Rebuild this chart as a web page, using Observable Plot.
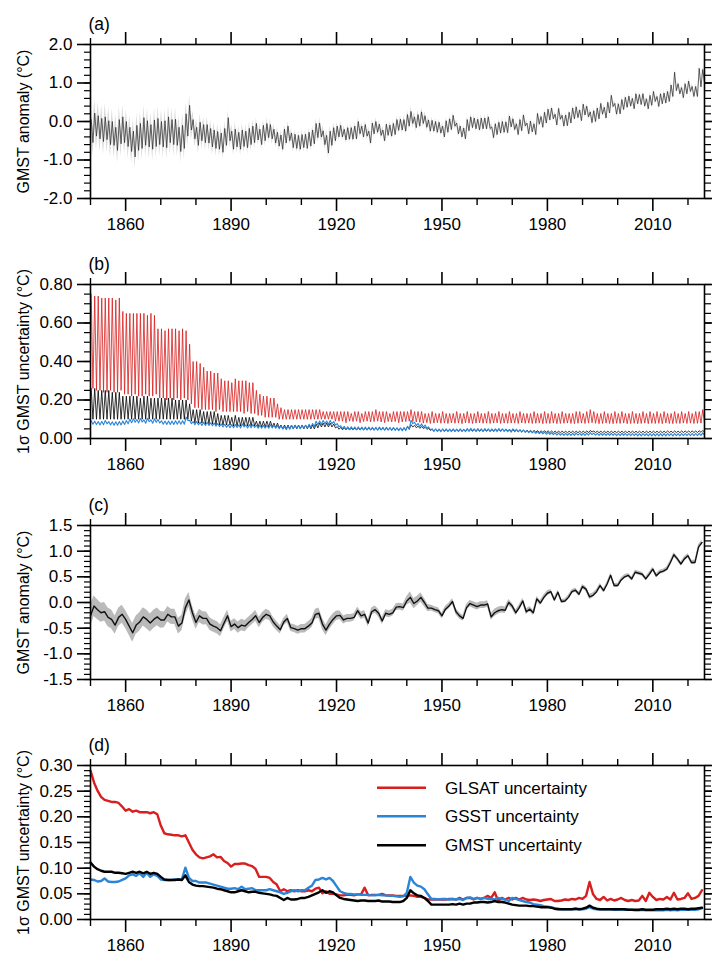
<!DOCTYPE html>
<html><head><meta charset="utf-8">
<script src="https://cdn.jsdelivr.net/npm/d3@7"></script>
<script src="https://cdn.jsdelivr.net/npm/@observablehq/plot@0.6"></script>
<style>
body{margin:0;background:#fff;}
#wrap{position:relative;width:712px;height:956px;overflow:hidden;background:#fff;}
#wrap svg{position:absolute;left:0;}
</style></head><body><div id="wrap"></div>
<script>
// ---------- data (years 1850..2024) ----------
const years = d3.range(1850, 2025);

// (c) annual GMST anomaly (°C)
const gmstAnn = [
-0.26,-0.07,-0.14,-0.20,-0.18,-0.29,-0.33,-0.44,-0.29,-0.23,
-0.33,-0.46,-0.59,-0.44,-0.38,-0.28,-0.33,-0.40,-0.33,-0.28,
-0.34,-0.34,-0.23,-0.28,-0.28,-0.46,-0.40,-0.10,0.05,-0.20,
-0.39,-0.26,-0.31,-0.31,-0.42,-0.46,-0.49,-0.55,-0.40,-0.26,
-0.47,-0.42,-0.49,-0.44,-0.46,-0.39,-0.33,-0.26,-0.39,-0.29,
-0.23,-0.26,-0.38,-0.46,-0.53,-0.38,-0.31,-0.49,-0.51,-0.54,
-0.51,-0.51,-0.46,-0.40,-0.23,-0.21,-0.42,-0.54,-0.42,-0.33,
-0.26,-0.25,-0.34,-0.31,-0.31,-0.29,-0.16,-0.26,-0.23,-0.40,
-0.18,-0.14,-0.21,-0.36,-0.21,-0.23,-0.20,-0.09,-0.08,-0.10,
0.03,0.10,-0.02,0.03,0.10,0.00,-0.11,-0.11,-0.14,-0.16,
-0.26,-0.13,-0.07,0.02,-0.18,-0.26,-0.31,-0.10,-0.02,-0.05,
-0.08,-0.05,-0.05,-0.03,-0.28,-0.20,-0.16,-0.14,-0.15,0.00,
-0.07,-0.20,-0.10,0.03,-0.18,-0.13,-0.20,0.07,-0.01,0.10,
0.18,0.21,0.05,0.20,0.02,0.03,0.10,0.21,0.24,0.16,
0.31,0.26,0.11,0.14,0.21,0.33,0.23,0.36,0.53,0.33,
0.33,0.44,0.50,0.53,0.46,0.59,0.57,0.55,0.46,0.55,
0.65,0.52,0.59,0.61,0.65,0.78,0.93,0.85,0.75,0.85,
0.91,0.78,0.78,1.08,1.17];

// (a) monthly GMST anomaly: yearly high and low excursions (°C)
const monthHi = [
0.05,0.22,0.15,0.08,0.12,0.02,0.00,-0.15,0.05,0.12,
0.00,-0.15,-0.25,-0.10,-0.05,0.10,0.02,-0.08,0.04,0.08,
0.00,0.02,0.12,0.05,0.06,-0.15,-0.10,0.20,0.42,0.05,
-0.15,-0.02,-0.08,-0.08,-0.18,-0.22,-0.26,-0.30,-0.18,0.10,
-0.25,-0.20,-0.28,-0.22,-0.25,-0.18,-0.12,-0.05,-0.20,-0.10,
-0.05,-0.08,-0.20,-0.28,-0.35,-0.20,-0.12,-0.30,-0.33,-0.36,
-0.34,-0.33,-0.28,-0.22,-0.05,-0.04,-0.24,-0.36,-0.25,-0.16,
-0.12,-0.10,-0.20,-0.16,-0.16,-0.12,0.00,-0.12,-0.08,-0.25,
-0.04,0.00,-0.07,-0.22,-0.07,-0.09,-0.05,0.05,0.06,0.05,
0.18,0.26,0.12,0.18,0.25,0.15,0.04,0.03,0.00,-0.02,
-0.12,0.02,0.07,0.16,-0.04,-0.12,-0.17,0.05,0.12,0.09,
0.06,0.09,0.09,0.12,-0.14,-0.06,-0.02,0.00,-0.01,0.14,
0.07,-0.06,0.05,0.17,-0.04,0.01,-0.06,0.21,0.13,0.24,
0.32,0.35,0.19,0.34,0.16,0.17,0.24,0.35,0.38,0.30,
0.45,0.40,0.25,0.28,0.35,0.47,0.37,0.50,0.68,0.47,
0.46,0.57,0.63,0.66,0.60,0.72,0.70,0.72,0.59,0.68,
0.78,0.65,0.72,0.74,0.78,0.95,1.28,0.98,0.88,0.98,
1.05,0.91,0.91,1.38,1.35];
const monthLo = [
-0.55,-0.38,-0.45,-0.52,-0.47,-0.60,-0.62,-0.75,-0.58,-0.55,
-0.65,-0.78,-0.92,-0.75,-0.70,-0.62,-0.66,-0.72,-0.65,-0.60,
-0.66,-0.68,-0.55,-0.60,-0.62,-0.78,-0.70,-0.38,-0.22,-0.45,
-0.62,-0.50,-0.55,-0.56,-0.66,-0.70,-0.72,-0.80,-0.62,-0.50,
-0.72,-0.66,-0.72,-0.65,-0.68,-0.60,-0.55,-0.48,-0.60,-0.50,
-0.42,-0.45,-0.56,-0.64,-0.72,-0.56,-0.50,-0.68,-0.70,-0.72,
-0.68,-0.70,-0.64,-0.58,-0.42,-0.40,-0.60,-0.82,-0.62,-0.50,
-0.40,-0.40,-0.48,-0.46,-0.46,-0.45,-0.32,-0.40,-0.38,-0.56,
-0.32,-0.28,-0.36,-0.50,-0.36,-0.38,-0.34,-0.23,-0.22,-0.25,
-0.12,-0.05,-0.16,-0.12,-0.05,-0.15,-0.25,-0.25,-0.28,-0.30,
-0.40,-0.28,-0.21,-0.12,-0.32,-0.40,-0.45,-0.24,-0.16,-0.19,
-0.22,-0.19,-0.19,-0.18,-0.42,-0.34,-0.30,-0.28,-0.29,-0.14,
-0.21,-0.34,-0.24,-0.11,-0.32,-0.27,-0.34,-0.07,-0.15,-0.04,
0.04,0.07,-0.09,0.06,-0.12,-0.11,-0.04,0.07,0.10,0.02,
0.17,0.12,-0.03,0.00,0.07,0.19,0.09,0.22,0.39,0.19,
0.20,0.31,0.37,0.40,0.33,0.46,0.44,0.40,0.33,0.42,
0.52,0.39,0.46,0.48,0.52,0.65,0.80,0.72,0.62,0.72,
0.78,0.65,0.65,0.90,1.02];

// (b) monthly 1σ uncertainty: yearly peak / trough (°C)
const glsatMonHi = [
.75,.74,.74,.73,.73,.73,.73,.72,.73,.66,
.65,.65,.65,.65,.65,.65,.64,.65,.64,.57,
.57,.56,.57,.57,.57,.56,.57,.56,.49,.40,
.40,.39,.37,.35,.35,.34,.34,.31,.30,.30,
.29,.31,.30,.30,.30,.29,.29,.25,.23,.22,
.22,.21,.21,.18,.16,.15,.15,.15,.15,.15,
.15,.15,.15,.15,.15,.15,.14,.14,.14,.14,
.14,.14,.14,.14,.13,.14,.14,.13,.14,.14,
.14,.15,.14,.14,.14,.13,.14,.14,.14,.14,
.14,.15,.14,.14,.14,.13,.13,.14,.13,.13,
.14,.13,.13,.13,.14,.13,.13,.14,.13,.13,
.14,.13,.13,.14,.13,.13,.14,.13,.13,.14,
.13,.13,.14,.13,.13,.13,.14,.13,.13,.14,
.13,.14,.13,.13,.14,.13,.13,.13,.14,.14,
.13,.14,.15,.14,.13,.13,.14,.13,.13,.14,
.13,.14,.13,.13,.14,.13,.13,.14,.13,.14,
.13,.14,.13,.14,.13,.13,.14,.13,.14,.13,
.14,.13,.14,.14,.15];
const glsatMonLo = [
.26,.25,.25,.24,.24,.25,.24,.24,.25,.23,
.23,.22,.23,.22,.22,.23,.22,.22,.23,.21,
.21,.20,.21,.20,.21,.20,.21,.20,.18,.16,
.16,.15,.15,.15,.15,.14,.15,.14,.14,.14,
.14,.14,.14,.13,.14,.13,.13,.12,.12,.11,
.11,.11,.11,.10,.10,.10,.10,.10,.10,.10,
.10,.10,.10,.10,.10,.10,.10,.10,.10,.09,
.09,.09,.082,.09,.088,.09,.082,.088,.09,.086,
.088,.09,.086,.082,.088,.086,.088,.082,.086,.088,
.09,.088,.086,.084,.08,.082,.078,.08,.082,.079,
.08,.078,.081,.079,.08,.077,.081,.08,.078,.08,
.081,.079,.08,.078,.08,.081,.078,.08,.079,.08,
.08,.078,.081,.079,.08,.078,.079,.08,.077,.079,
.078,.08,.077,.078,.079,.08,.078,.077,.079,.08,
.078,.08,.082,.079,.077,.078,.08,.078,.077,.079,
.078,.08,.077,.078,.079,.077,.078,.08,.077,.079,
.078,.079,.077,.08,.078,.077,.079,.078,.08,.078,
.08,.078,.079,.08,.082];
const gmstMonHi = [
.26,.26,.25,.25,.25,.25,.24,.24,.24,.22,
.22,.22,.22,.22,.21,.22,.22,.21,.21,.21,
.21,.21,.21,.21,.20,.20,.20,.20,.18,.15,
.15,.15,.14,.14,.14,.14,.13,.12,.12,.12,
.11,.12,.11,.11,.11,.11,.11,.09,.09,.09,
.09,.09,.08,.08,.07,.07,.07,.07,.07,.07,
.07,.07,.07,.07,.075,.08,.08,.08,.08,.075,
.062,.058,.056,.056,.055,.055,.055,.055,.055,.055,
.055,.055,.055,.055,.055,.055,.055,.054,.054,.056,
.062,.072,.068,.064,.062,.058,.052,.048,.048,.048,
.047,.047,.047,.047,.047,.048,.047,.047,.047,.047,
.047,.047,.047,.047,.047,.050,.047,.048,.048,.048,
.045,.044,.043,.043,.043,.042,.042,.041,.040,.040,
.040,.039,.039,.038,.038,.038,.038,.038,.038,.038,
.038,.039,.042,.039,.038,.038,.038,.038,.038,.038,
.038,.038,.038,.038,.038,.038,.038,.038,.038,.038,
.038,.038,.038,.038,.039,.038,.039,.038,.039,.039,
.039,.039,.039,.040,.042];
const gmstMonLo = [
.10,.10,.10,.10,.10,.10,.10,.10,.10,.10,
.10,.10,.10,.10,.10,.10,.10,.10,.10,.10,
.10,.10,.10,.10,.10,.10,.10,.10,.09,.08,
.08,.08,.075,.075,.075,.07,.07,.07,.07,.07,
.065,.065,.065,.065,.065,.065,.065,.06,.06,.06,
.06,.06,.055,.055,.05,.05,.05,.05,.05,.05,
.05,.05,.05,.05,.055,.06,.06,.06,.06,.055,
.048,.045,.045,.044,.044,.044,.044,.044,.044,.044,
.044,.044,.044,.044,.044,.044,.044,.043,.043,.045,
.048,.060,.056,.053,.052,.048,.042,.038,.038,.038,
.037,.037,.037,.037,.037,.037,.037,.037,.037,.037,
.037,.037,.037,.037,.037,.040,.037,.038,.038,.038,
.035,.035,.034,.034,.034,.033,.033,.032,.032,.032,
.031,.030,.030,.030,.030,.030,.030,.030,.030,.030,
.030,.031,.034,.031,.030,.030,.030,.030,.030,.030,
.030,.030,.030,.030,.030,.030,.030,.030,.030,.030,
.030,.030,.030,.030,.031,.030,.031,.030,.031,.031,
.031,.031,.031,.032,.033];
const gsstMonHi = [
.092,.090,.088,.089,.094,.088,.087,.087,.088,.091,
.094,.100,.102,.099,.104,.097,.105,.097,.102,.099,
.092,.091,.091,.091,.092,.092,.092,.112,.095,.088,
.088,.085,.085,.085,.082,.080,.078,.076,.074,.072,
.072,.073,.071,.076,.071,.072,.073,.069,.069,.069,
.069,.071,.069,.067,.065,.062,.064,.067,.069,.067,
.069,.069,.074,.078,.090,.091,.094,.091,.094,.088,
.077,.066,.063,.061,.061,.060,.060,.059,.059,.059,
.058,.058,.059,.058,.058,.057,.057,.056,.055,.056,
.063,.095,.084,.078,.076,.070,.060,.050,.050,.049,
.050,.050,.049,.050,.049,.050,.048,.052,.053,.050,
.052,.050,.052,.050,.050,.049,.052,.050,.049,.046,
.050,.048,.046,.044,.042,.040,.037,.036,.035,.033,
.032,.031,.029,.028,.027,.027,.027,.027,.028,.027,
.027,.028,.031,.028,.027,.027,.027,.027,.027,.026,
.026,.027,.026,.026,.026,.025,.025,.026,.025,.025,
.025,.025,.025,.025,.026,.025,.026,.025,.026,.026,
.026,.026,.026,.027,.029];
const gsstMonLo = [
.074,.073,.070,.071,.076,.070,.069,.069,.070,.073,
.076,.082,.084,.081,.086,.079,.087,.079,.084,.081,
.074,.073,.073,.073,.074,.074,.074,.094,.077,.071,
.071,.068,.068,.068,.066,.064,.062,.060,.058,.056,
.056,.057,.055,.060,.055,.056,.057,.053,.053,.053,
.053,.055,.053,.051,.049,.046,.048,.051,.053,.051,
.053,.053,.058,.062,.072,.073,.076,.073,.076,.070,
.061,.051,.048,.046,.046,.045,.045,.044,.044,.044,
.043,.043,.044,.043,.043,.042,.042,.041,.040,.041,
.048,.077,.067,.061,.059,.054,.045,.037,.037,.036,
.037,.037,.036,.037,.036,.037,.035,.039,.040,.037,
.039,.037,.039,.037,.037,.036,.039,.037,.036,.033,
.038,.036,.034,.032,.030,.029,.026,.025,.024,.022,
.021,.020,.018,.017,.016,.016,.016,.016,.017,.016,
.016,.017,.020,.017,.016,.016,.016,.016,.016,.015,
.015,.016,.015,.015,.015,.014,.014,.015,.014,.014,
.014,.014,.014,.014,.015,.014,.015,.014,.015,.015,
.015,.015,.015,.016,.018];

// (d) annual 1σ uncertainty (°C)
const glsatUnc = [
.290,.267,.251,.239,.233,.231,.229,.229,.227,.220,
.212,.215,.210,.212,.209,.209,.209,.207,.209,.205,
.183,.168,.166,.165,.164,.164,.162,.164,.150,.136,
.127,.121,.119,.121,.123,.127,.121,.122,.114,.110,
.103,.108,.108,.109,.109,.106,.104,.098,.083,.083,
.083,.081,.073,.068,.055,.059,.055,.057,.055,.057,
.055,.055,.057,.055,.060,.062,.051,.055,.050,.050,
.049,.047,.047,.048,.048,.047,.049,.049,.062,.047,
.048,.048,.048,.050,.047,.047,.047,.046,.046,.046,
.046,.047,.046,.044,.044,.042,.039,.039,.039,.039,
.039,.039,.040,.040,.039,.042,.039,.042,.042,.039,
.042,.040,.042,.046,.042,.053,.036,.042,.039,.042,
.039,.042,.039,.042,.039,.038,.039,.038,.036,.038,
.039,.040,.036,.036,.037,.039,.038,.040,.039,.042,
.040,.046,.073,.049,.040,.038,.044,.037,.040,.037,
.039,.042,.038,.036,.038,.036,.037,.046,.036,.052,
.044,.038,.040,.039,.044,.039,.052,.039,.040,.042,
.051,.040,.042,.046,.057];
const gsstUnc = [
.078,.077,.074,.075,.080,.074,.073,.073,.074,.077,
.080,.086,.088,.085,.090,.083,.091,.083,.088,.085,
.078,.077,.077,.077,.078,.078,.078,.101,.081,.075,
.075,.072,.072,.072,.070,.068,.066,.064,.062,.060,
.060,.061,.059,.064,.059,.060,.061,.057,.057,.057,
.057,.059,.057,.055,.053,.050,.052,.055,.057,.055,
.057,.057,.062,.066,.077,.078,.081,.078,.081,.075,
.065,.055,.052,.050,.050,.049,.049,.048,.048,.048,
.047,.047,.048,.047,.047,.046,.046,.045,.044,.045,
.052,.083,.072,.066,.064,.059,.049,.040,.040,.039,
.040,.040,.039,.040,.039,.040,.038,.042,.043,.040,
.042,.040,.042,.040,.040,.039,.042,.040,.039,.036,
.042,.040,.038,.036,.034,.033,.030,.029,.028,.026,
.025,.024,.022,.021,.020,.020,.020,.020,.021,.020,
.020,.021,.024,.021,.020,.020,.020,.020,.020,.019,
.019,.020,.019,.019,.019,.018,.018,.019,.018,.018,
.018,.018,.018,.018,.019,.018,.019,.018,.019,.019,
.019,.019,.019,.020,.022];
const gmstUnc = [
.111,.103,.098,.095,.093,.093,.093,.091,.091,.090,
.089,.091,.093,.091,.093,.090,.093,.089,.091,.089,
.083,.078,.077,.077,.077,.078,.077,.086,.073,.068,
.066,.065,.065,.064,.063,.062,.060,.059,.057,.055,
.053,.053,.055,.057,.055,.053,.054,.054,.052,.051,
.050,.049,.047,.046,.042,.038,.042,.039,.039,.040,
.042,.042,.044,.047,.050,.053,.057,.052,.055,.053,
.047,.042,.040,.039,.038,.037,.036,.037,.037,.036,
.036,.036,.037,.035,.035,.035,.034,.034,.034,.036,
.042,.057,.051,.047,.046,.042,.036,.029,.029,.029,
.029,.029,.029,.030,.029,.031,.029,.031,.031,.033,
.033,.034,.034,.033,.034,.036,.034,.034,.033,.031,
.029,.028,.027,.027,.027,.026,.026,.025,.024,.024,
.024,.023,.021,.020,.020,.020,.020,.020,.021,.020,
.021,.023,.027,.023,.021,.020,.020,.020,.020,.020,
.020,.020,.020,.019,.019,.019,.019,.020,.019,.019,
.019,.020,.020,.020,.021,.020,.021,.020,.021,.021,
.020,.021,.021,.022,.023];

// axis ticks and labels
const xMajorTicks = [1860, 1890, 1920, 1950, 1980, 2010];
const xMinorTicks = [1850, 1870, 1880, 1900, 1910, 1930, 1940, 1960, 1970, 1990, 2000, 2020];
const panelTags = ["(a)", "(b)", "(c)", "(d)"];
const yLabels = ["GMST anomaly (°C)", "1σ GMST uncertainty (°C)", "GMST anomaly (°C)", "1σ GMST uncertainty (°C)"];
const legendLabels = ["GLSAT uncertainty", "GSST uncertainty", "GMST uncertainty"];
const legendColors = ["#d81e1e", "#2a85d8", "#000000"];

// ---------- helpers ----------
const FONT = '"Liberation Sans", Arial, Helvetica, sans-serif';
const RED = legendColors[0], BLUE = legendColors[1], BLACK = legendColors[2];
const xDomain = [1850, 2024.7];
const wrap = document.getElementById("wrap");
const FS = 17;

// yearly high/low excursions drawn in time order (high early in the year, low later)
function zig(hi, lo, extra) {
  return years.flatMap((y, i) => [
    {x: y + 0.2, v: hi[i], s: extra ? extra[i] : 0},
    {x: y + 0.7, v: lo[i], s: extra ? extra[i] : 0}
  ]);
}

function panel({top, mt, yDomain, yMajor, yMinor, fmt, idx, marks}) {
  const H = 154, MB = 38;
  const blank = () => "";
  const svg = Plot.plot({
    width: 712, height: mt + H + MB,
    marginLeft: 90, marginRight: 8, marginTop: mt, marginBottom: MB,
    x: {domain: xDomain},
    y: {domain: yDomain},
    style: {fontFamily: FONT, fontSize: FS + "px", color: "#000", background: "transparent"},
    marks: [
      ...marks,
      Plot.frame({stroke: "#000", strokeWidth: 1.6}),
      Plot.axisX({anchor: "bottom", ticks: xMajorTicks, tickSize: 13, tickPadding: 6, tickFormat: d => String(d), label: null, strokeWidth: 1.6, fontSize: FS}),
      Plot.axisX({anchor: "bottom", ticks: xMinorTicks, tickSize: 7, tickFormat: blank, label: null, strokeWidth: 1.4}),
      Plot.axisX({anchor: "top", ticks: xMajorTicks, tickSize: 13, tickFormat: blank, label: null, strokeWidth: 1.6}),
      Plot.axisX({anchor: "top", ticks: xMinorTicks, tickSize: 7, tickFormat: blank, label: null, strokeWidth: 1.4}),
      Plot.axisY({anchor: "left", ticks: yMajor, tickSize: 13, tickPadding: 5, tickFormat: fmt, label: null, strokeWidth: 1.6, fontSize: FS}),
      Plot.axisY({anchor: "left", ticks: yMinor, tickSize: 6, tickFormat: blank, label: null, strokeWidth: 1.2}),
      Plot.axisY({anchor: "right", ticks: yMajor, tickSize: 13, tickFormat: blank, label: null, strokeWidth: 1.6}),
      Plot.axisY({anchor: "right", ticks: yMinor, tickSize: 6, tickFormat: blank, label: null, strokeWidth: 1.2}),
      Plot.text([yLabels[idx]], {text: d => d, frameAnchor: "left", dx: -67, rotate: -90, textAnchor: "middle", lineAnchor: "middle", fontSize: 16}),
      Plot.text([panelTags[idx]], {text: d => d, frameAnchor: "top-left", dx: -2, dy: -20, textAnchor: "start", lineAnchor: "middle", fontSize: 17.5})
    ]
  });
  svg.style.top = top + "px";
  wrap.appendChild(svg);
}
const ticksStep = (a, b, s) => d3.range(Math.round(a / s), Math.round(b / s) + 1).map(k => +(k * s).toFixed(4));

// ---------- panel (a) ----------
const sigMon = years.map((y, i) => (gmstMonHi[i] + gmstMonLo[i]) / 2);
const zA = zig(monthHi, monthLo, sigMon);
panel({
  top: 0, mt: 44, idx: 0, yDomain: [-2, 2],
  yMajor: ticksStep(-2, 2, 1), yMinor: ticksStep(-2, 2, 0.2), fmt: d => d.toFixed(1),
  marks: [
    Plot.areaY(zA, {x: "x", y1: d => d.v - 1.96 * d.s, y2: d => d.v + 1.96 * d.s, fill: "#dadada"}),
    Plot.lineY(zA, {x: "x", y: "v", stroke: "#262626", strokeWidth: 0.7})
  ]
});

// ---------- panel (b) ----------
panel({
  top: 240, mt: 44, idx: 1, yDomain: [0, 0.8],
  yMajor: ticksStep(0, 0.8, 0.2), yMinor: ticksStep(0, 0.8, 0.05), fmt: d => d.toFixed(2),
  marks: [
    Plot.lineY(zig(glsatMonHi, glsatMonLo), {x: "x", y: "v", stroke: RED, strokeWidth: 0.8}),
    Plot.lineY(zig(gmstMonHi, gmstMonLo), {x: "x", y: "v", stroke: BLACK, strokeWidth: 0.8}),
    Plot.lineY(zig(gsstMonHi, gsstMonLo), {x: "x", y: "v", stroke: BLUE, strokeWidth: 1.1})
  ]
});

// ---------- panel (c) ----------
const annual = years.map((y, i) => ({x: y, v: gmstAnn[i], s: gmstUnc[i]}));
panel({
  top: 480, mt: 45, idx: 2, yDomain: [-1.5, 1.5],
  yMajor: ticksStep(-1.5, 1.5, 0.5), yMinor: ticksStep(-1.5, 1.5, 0.1), fmt: d => d.toFixed(1),
  marks: [
    Plot.areaY(annual, {x: "x", y1: d => d.v - 1.96 * d.s, y2: d => d.v + 1.96 * d.s, fill: "#bababa"}),
    Plot.lineY(annual, {x: "x", y: "v", stroke: "#111", strokeWidth: 1.4})
  ]
});

// ---------- panel (d) ----------
const series = [glsatUnc, gsstUnc, gmstUnc];
panel({
  top: 720, mt: 45, idx: 3, yDomain: [0, 0.3],
  yMajor: ticksStep(0, 0.3, 0.05), yMinor: ticksStep(0, 0.3, 0.01), fmt: d => d.toFixed(2),
  marks: series.map((arr, k) =>
    Plot.lineY(years.map((y, i) => ({x: y, v: arr[i]})), {x: "x", y: "v", stroke: legendColors[k], strokeWidth: 2.4})
  )
});

// ---------- legend for (d) ----------
const leg = d3.select(wrap).append("svg")
  .attr("width", 712).attr("height", 956)
  .style("top", "0px").style("pointer-events", "none");
const rowY = [787.7, 816.2, 845.3];
legendLabels.forEach((lab, k) => {
  leg.append("line").attr("x1", 377).attr("x2", 426).attr("y1", rowY[k]).attr("y2", rowY[k])
    .attr("stroke", legendColors[k]).attr("stroke-width", 2.5);
  leg.append("text").attr("x", 445).attr("y", rowY[k]).attr("dy", "0.35em")
    .attr("font-family", FONT).attr("font-size", 17).attr("fill", "#000").text(lab);
});
</script></body></html>
